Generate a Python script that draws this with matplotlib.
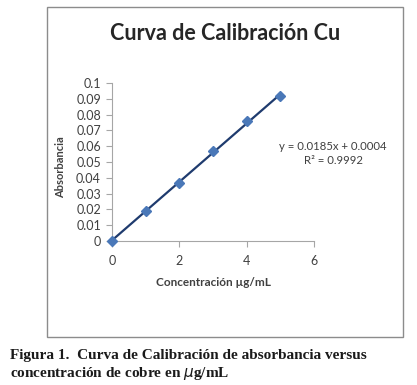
import matplotlib
matplotlib.use("Agg")
import matplotlib.pyplot as plt
import numpy as np
from matplotlib.patches import Rectangle

conc = [0, 1, 2, 3, 4, 5]
absorb = [0.0, 0.019, 0.037, 0.057, 0.076, 0.092]
slope, intercept = 0.0185, 0.0004
xticks = [0, 2, 4, 6]
yticks = [0, 0.01, 0.02, 0.03, 0.04, 0.05, 0.06, 0.07, 0.08, 0.09, 0.1]
ytick_labels = ["0", "0.01", "0.02", "0.03", "0.04", "0.05", "0.06", "0.07", "0.08", "0.09", "0.1"]

W, H = 417, 385
fig = plt.figure(figsize=(W / 100, H / 100), dpi=100)
fig.patch.set_facecolor("white")

SANS = ["Lato", "DejaVu Sans"]
TXT = "#404040"

# chart frame
fig.add_artist(Rectangle((47 / W, 1 - 337 / H), (403 - 47) / W, (337 - 7) / H,
                         transform=fig.transFigure, fill=False, ec="#8c8c8c", lw=1.0))

ax = fig.add_axes([112 / W, 1 - 241 / H, (314 - 112) / W, (241 - 83) / H])
ax.set_xlim(0, 6)
ax.set_ylim(0, 0.1)

xs = np.array([conc[0], conc[-1]])
ax.plot(xs, slope * xs + intercept, color="#1f3b6e", lw=1.6, zorder=2)
ax.plot(conc, absorb, ls="none", marker="D", ms=5.5, color="#4a78b8", zorder=3,
        clip_on=False)

ax.set_xticks(xticks)
ax.set_yticks(yticks)
ax.set_yticklabels(ytick_labels)
for s in ["top", "right"]:
    ax.spines[s].set_visible(False)
for s in ["left", "bottom"]:
    ax.spines[s].set_color("#a6a6a6")
ax.tick_params(colors="#a6a6a6", labelcolor=TXT, labelsize=9, length=4, width=0.8)
for lab in ax.get_xticklabels() + ax.get_yticklabels():
    lab.set_family(SANS)
ax.tick_params(axis="x", pad=6)
ax.tick_params(axis="y", pad=4)

ax.set_xlabel("Concentración µg/mL", family=SANS, fontsize=8.5, fontweight="bold",
              color=TXT, labelpad=7)
ax.set_ylabel("Absorbancia", family=SANS, fontsize=8, fontweight="bold", color=TXT)
ax.yaxis.set_label_coords((66 - 112) / (314 - 112), (241 - 167) / (241 - 83))

fig.text(225 / W, 1 - 33 / H, "Curva de Calibración Cu", family=SANS, fontsize=15.5,
         fontweight="bold", color="#262626", ha="center", va="center")

fig.text(333 / W, 1 - 146 / H, "y = 0.0185x + 0.0004", family=SANS, fontsize=8.2,
         color=TXT, ha="center", va="center")
fig.text(333 / W, 1 - 161 / H, "R² = 0.9992", family=SANS, fontsize=8.2,
         color=TXT, ha="center", va="center")

SERIF = ["Liberation Serif", "DejaVu Serif"]
fig.text(10 / W, 1 - 355 / H, "Figura 1.  Curva de Calibración de absorbancia versus",
         family=SERIF, fontsize=11, fontweight="bold", color="#1a1a1a", va="center")
fig.text(10 / W, 1 - 374 / H, r"concentración de cobre en $\mathit{\mu}$g/mL",
         family=SERIF, fontsize=11, fontweight="bold", color="#1a1a1a", va="center")

fig.savefig("out.png", dpi=100, facecolor="white")
